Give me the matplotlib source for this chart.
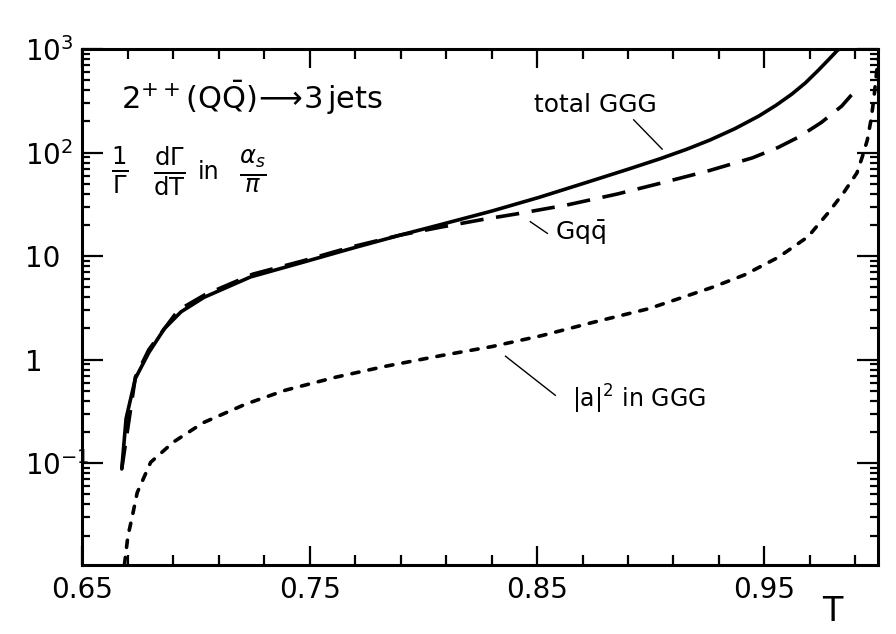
import matplotlib
matplotlib.use('Agg')
import matplotlib.pyplot as plt
from matplotlib.ticker import FixedLocator, LogLocator, NullFormatter

plt.rcParams['font.family'] = 'DejaVu Sans'
plt.rcParams['mathtext.fontset'] = 'dejavusans'

# total GGG (solid)
t_total = [0.6673, 0.6692, 0.6733, 0.6792, 0.6861, 0.6934, 0.7035, 0.724, 0.746, 0.768,
           0.790, 0.807, 0.830, 0.851, 0.873, 0.890, 0.904, 0.916, 0.926, 0.937,
           0.9475, 0.955, 0.962, 0.968, 0.9736, 0.978, 0.9822, 0.9832]
y_total = [0.088, 0.27, 0.66, 1.17, 2.0, 2.9, 4.0, 6.3, 8.6, 11.8,
           16.0, 20.0, 27.2, 37.0, 52.5, 69.0, 87.0, 108.0, 132.0, 170.0,
           225.0, 285.0, 366.0, 470.0, 620.0, 780.0, 975.0, 1000.0]

# G q qbar (dashed)
t_gqq = [0.6673, 0.6733, 0.6792, 0.6921, 0.704, 0.725, 0.747, 0.768, 0.790, 0.8074,
         0.8262, 0.8412, 0.8632, 0.8851, 0.904, 0.9259, 0.9448, 0.956, 0.9653, 0.975,
         0.984, 0.9883]
y_gqq = [0.088, 0.68, 1.25, 3.0, 4.25, 6.7, 9.0, 12.2, 16.0, 19.0,
         22.6, 25.6, 31.2, 39.7, 50.4, 67.1, 89.0, 112.0, 142.0, 195.0,
         281.0, 360.0]

# |a|^2 in GGG (dotted)
t_a2 = [0.6685, 0.670, 0.6717, 0.6741, 0.680, 0.690, 0.7031, 0.7219, 0.7394, 0.7614,
        0.7833, 0.8083, 0.8303, 0.8522, 0.8742, 0.8992, 0.9268, 0.9412, 0.9561, 0.9692,
        0.9778, 0.9847, 0.9907, 0.9932, 0.9953, 0.9969, 0.9981, 0.9992, 1.0]
y_a2 = [0.0105, 0.0198, 0.029, 0.052, 0.102, 0.160, 0.246, 0.373, 0.508, 0.677,
        0.863, 1.10, 1.34, 1.71, 2.28, 3.11, 4.97, 6.58, 9.73, 15.4,
        25.8, 40.5, 63.6, 93.0, 133.0, 208.0, 325.0, 555.0, 800.0]

x_major = [0.65, 0.75, 0.85, 0.95]
x_minor = [0.67, 0.69, 0.71, 0.73, 0.77, 0.79, 0.81, 0.83, 0.87, 0.89, 0.91, 0.93, 0.97, 0.99]
y_major = [0.1, 1, 10, 100, 1000]
y_labels = [r'$10^{-1}$', '1', '10', r'$10^2$', r'$10^3$']

fig = plt.figure(figsize=(8.96, 6.34), dpi=100)
ax = fig.add_axes([0.092, 0.1095, 0.888, 0.8132])

ax.plot(t_total, y_total, color='black', lw=2.6, solid_capstyle='round', solid_joinstyle='round')
ax.plot(t_gqq, y_gqq, color='black', lw=2.6, linestyle=(0, (6.5, 3.5)))
ax.plot(t_a2, y_a2, color='black', lw=2.6, linestyle=(0, (2.0, 2.8)), dash_capstyle='round')

ax.set_yscale('log')
ax.set_xlim(0.65, 1.0)
ax.set_ylim(0.0105, 1000)

ax.xaxis.set_major_locator(FixedLocator(x_major))
ax.xaxis.set_minor_locator(FixedLocator(x_minor))
ax.set_xticklabels([f'{v:.2f}' for v in x_major])
ax.yaxis.set_major_locator(FixedLocator(y_major))
ax.yaxis.set_minor_locator(LogLocator(base=10, subs=range(2, 10)))
ax.yaxis.set_minor_formatter(NullFormatter())
ax.set_yticklabels(y_labels)

for s in ax.spines.values():
    s.set_linewidth(2.2)
ax.tick_params(which='both', direction='in', top=True, right=True, width=1.6, labelsize=20)
ax.tick_params(axis='x', which='major', length=14, pad=8)
ax.tick_params(axis='x', which='minor', length=7)
ax.tick_params(axis='y', which='major', length=15, pad=41)
ax.tick_params(axis='y', which='minor', length=6)
for lab in ax.get_yticklabels():
    lab.set_horizontalalignment('left')

# texts
ax.text(0.048, 0.906, r'$\mathrm{2^{++}(Q\bar{Q})}\!\longrightarrow\!\mathrm{3\,jets}$',
        transform=ax.transAxes, fontsize=22, ha='left', va='center')
# (1/Gamma) (dGamma/dT) in (alpha_s/pi), built from pieces so the fractions stay large
ax.text(0.047, 0.765, r'$\frac{1}{\Gamma}$', transform=ax.transAxes,
        fontsize=25, ha='center', va='center')
ax.text(0.109, 0.765, r'$\frac{\mathrm{d}\Gamma}{\mathrm{dT}}$', transform=ax.transAxes,
        fontsize=25, ha='center', va='center')
ax.text(0.158, 0.761, 'in', transform=ax.transAxes, fontsize=17, ha='center', va='center')
ax.text(0.214, 0.765, r'$\frac{\alpha_s}{\pi}$', transform=ax.transAxes,
        fontsize=25, ha='center', va='center')

ax.text(0.8757, 291, 'total GGG', fontsize=18, ha='center', va='center')
ax.plot([0.8925, 0.905], [207, 108], color='black', lw=1.0)

ax.text(0.869, 16.8, r'$\mathrm{Gq\bar{q}}$', fontsize=18, ha='center', va='center')
ax.plot([0.847, 0.8545], [21.5, 16.6], color='black', lw=1.0)

ax.text(0.8946, 0.409, r'$\mathrm{|a|^2\ in\ GGG}$', fontsize=17, ha='center', va='center')
ax.plot([0.8361, 0.858], [1.08, 0.453], color='black', lw=1.0)

fig.text(0.9286, 0.036, 'T', fontsize=24, ha='center', va='center')

fig.savefig('out.png', dpi=100)
